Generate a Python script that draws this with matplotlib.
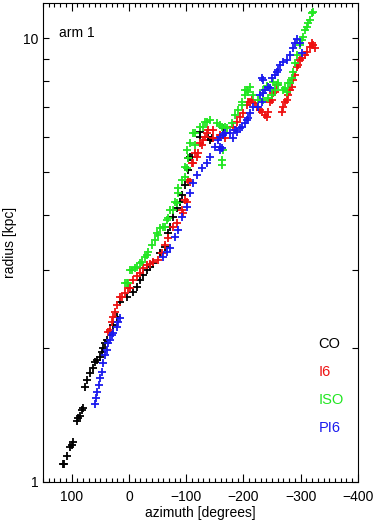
# To draw plots
import matplotlib.pyplot as plt
# Tick helpers for the log axis
from matplotlib.ticker import FixedLocator, NullFormatter, MultipleLocator

plt.rcParams['font.family'] = ['Liberation Sans', 'DejaVu Sans']

# CO points (azimuth in degrees, radius in kpc)
co_az = [115, 113, 108, 103, 99, 98, 91, 89, 85, 82, 80, 77, 73, 68, 63, 59, 56, 51, 47,
         45, 42, 38, 33, 28, 21, 16, 3, -7, -14, -19, -25, -31, -37, -42, -54, -63, -68,
         -72, -77, -84, -89, -93, -98, -103, -103, -107, -110, -124, -124, -138, -141,
         -145, -164]
co_r = [1.10, 1.10, 1.144, 1.20, 1.21, 1.23, 1.372, 1.39, 1.408, 1.453, 1.468, 1.637,
        1.697, 1.76, 1.806, 1.86, 1.88, 1.912, 1.96, 2.0, 2.056, 2.088, 2.177, 2.258,
        2.353, 2.544, 2.611, 2.68, 2.749, 2.851, 2.925, 3.0, 3.049, 3.113, 3.279, 3.383,
        3.638, 3.753, 3.953, 4.142, 4.273, 4.43, 4.667, 5.04, 5.367, 5.395, 5.395, 6.141,
        5.98, 5.984, 5.89, 5.953, 6.269]

# I6 points
i6_az = [37, 33, 30, 28, 24, 21, 16, 12, 7, 2, -2, -7, -14, -19, -25, -31, -37, -42, -51,
         -58, -63, -68, -77, -84, -93, -94, -98, -101, -103, -107, -110, -112, -115, -119,
         -120, -124, -127, -129, -133, -136, -138, -147, -147, -155, -159, -168, -182,
         -189, -194, -199, -206, -208, -211, -215, -220, -223, -229, -232, -237, -241,
         -243, -246, -250, -251, -255, -258, -267, -269, -272, -276, -278, -281, -285,
         -286, -290, -293, -295, -298, -302, -307, -311, -316, -319, -321, -325]
i6_r = [2.177, 2.2, 2.293, 2.353, 2.415, 2.505, 2.611, 2.611, 2.666, 2.735, 2.735, 2.851,
        2.91, 2.96, 3.034, 3.081, 3.10, 3.129, 3.162, 3.279, 3.418, 3.545, 3.753, 3.832,
        4.1, 4.036, 4.318, 4.273, 4.789, 4.74, 5.23, 5.23, 5.508, 5.395, 5.508, 5.801,
        5.741, 5.892, 5.984, 6.109, 6.205, 6.205, 5.953, 5.953, 6.046, 5.953, 6.302,
        6.468, 6.639, 6.778, 7.065, 7.176, 7.176, 7.251, 7.139, 6.992, 6.884, 6.813,
        6.708, 6.639, 6.813, 7.176, 7.251, 7.519, 7.559, 7.838, 6.813, 6.992, 7.176,
        7.251, 7.441, 7.637, 7.757, 8.044, 8.255, 8.605, 8.695, 8.924, 9.017, 9.158,
        9.301, 9.544, 9.744, 9.643, 9.495]

# ISO points
iso_az = [7, 3, 2, -2, -5, -11, -14, -19, -23, -28, -31, -33, -40, -45, -49, -51, -54, -59,
          -63, -66, -68, -72, -77, -80, -84, -86, -86, -93, -98, -98, -101, -101, -103,
          -107, -112, -115, -115, -124, -129, -133, -136, -141, -154, -159, -162, -168,
          -171, -180, -185, -190, -197, -197, -202, -202, -206, -208, -211, -216, -225,
          -234, -234, -241, -243, -250, -251, -255, -260, -260, -269, -272, -276, -278,
          -281, -285, -286, -290, -293, -298, -302, -304, -307, -311, -312, -316, -319,
          -321, -162, -162, -164]
iso_r = [2.807, 2.807, 2.807, 3.002, 3.002, 3.034, 3.049, 3.113, 3.129, 3.212, 3.245, 3.296,
         3.418, 3.508, 3.638, 3.6, 3.734, 3.753, 3.753, 3.892, 3.933, 4.1, 4.1, 4.273,
         4.251, 4.477, 4.595, 4.789, 4.864, 5.123, 5.097, 5.594, 5.367, 5.801, 6.109,
         5.741, 6.109, 6.302, 6.302, 6.468, 6.468, 6.536, 6.434, 6.368, 6.302, 6.302,
         6.269, 6.434, 6.708, 6.884, 7.065, 7.176, 7.441, 7.637, 7.637, 7.559, 7.757,
         7.441, 7.251, 7.251, 7.637, 7.797, 7.327, 7.441, 7.961, 7.637, 7.919, 7.838,
         7.637, 7.717, 7.559, 7.919, 7.919, 8.128, 8.385, 8.786, 9.158, 9.643, 9.897,
         10.05, 10.43, 10.59, 10.81, 10.98, 11.38, 11.44, 5.312, 5.18, 5.594]

# PI6 points
pi6_az = [59, 58, 56, 52, 51, 47, 45, 42, 38, 37, 33, 30, 28, 21, 19, 16, -59, -66, -72,
          -80, -86, -93, -101, -107, -112, -119, -127, -136, -141, -150, -155, -159, -164,
          -159, -162, -159, -168, -176, -182, -185, -189, -194, -197, -202, -206, -208,
          -211, -216, -225, -229, -232, -234, -237, -243, -246, -250, -255, -258, -260,
          -264, -269, -276, -281, -286, -290, -293, -298, -302, -232, -234]
pi6_r = [1.499, 1.546, 1.595, 1.654, 1.715, 1.769, 1.854, 1.932, 1.983, 2.056, 2.088,
         2.143, 2.166, 2.234, 2.293, 2.341, 3.212, 3.296, 3.365, 3.563, 3.695, 3.953,
         4.164, 4.477, 4.716, 4.914, 5.097, 5.23, 5.395, 5.682, 5.892, 5.984, 6.046,
         5.682, 5.653, 5.594, 6.109, 6.109, 5.95, 6.205, 6.141, 6.269, 6.302, 6.434,
         6.536, 6.604, 6.778, 6.992, 6.992, 7.441, 7.176, 7.519, 7.637, 7.757, 7.717,
         8.128, 8.255, 8.385, 8.472, 8.695, 8.832, 8.924, 9.158, 9.495, 9.744, 9.948,
         9.744, 9.254, 8.128, 8.044]

names = ['CO', 'I6', 'ISO', 'PI6']
colors = ['black', '#ee1111', '#22e622', '#1a1aee']

fig = plt.figure(figsize=(3.74, 5.21), dpi=100)
ax = fig.add_axes([0.115, 0.075, 0.842, 0.919])

# Draw each set as plus markers
series = [(co_az, co_r), (i6_az, i6_r), (iso_az, iso_r), (pi6_az, pi6_r)]
for (az, r), c in zip(series, colors):
    ax.plot(az, r, linestyle='none', marker='+', color=c, markersize=6, markeredgewidth=1.3)

ax.set_yscale('log')
ax.set_xlim(150, -400)
ax.set_ylim(1, 12)

# Ticks on all four sides, pointing in
ax.xaxis.set_major_locator(MultipleLocator(100))
ax.xaxis.set_minor_locator(MultipleLocator(10))
ax.yaxis.set_major_locator(FixedLocator([1, 10]))
ax.yaxis.set_minor_locator(FixedLocator([2, 3, 4, 5, 6, 7, 8, 9]))
ax.yaxis.set_minor_formatter(NullFormatter())
ax.set_yticklabels(['1', '10'])
ax.tick_params(which='both', direction='in', top=True, right=True, labelsize=10, width=0.8)
ax.tick_params(axis='x', which='major', length=6, pad=6)
ax.tick_params(axis='x', which='minor', length=3)
ax.tick_params(axis='y', which='both', length=4.5)
for s in ax.spines.values():
    s.set_linewidth(0.8)

ax.set_xlabel('azimuth [degrees]', fontsize=10, labelpad=1)
ax.set_ylabel('radius [kpc]', fontsize=10, labelpad=4)

ax.text(0.05, 0.937, 'arm 1', transform=ax.transAxes, fontsize=10, va='center')

# Legend as coloured words
for i, (n, c) in enumerate(zip(names, colors)):
    ax.text(0.875, 0.288 - i * 0.0585, n, color=c, transform=ax.transAxes, fontsize=10.5,
            va='center')

plt.savefig('out.png', dpi=100)
